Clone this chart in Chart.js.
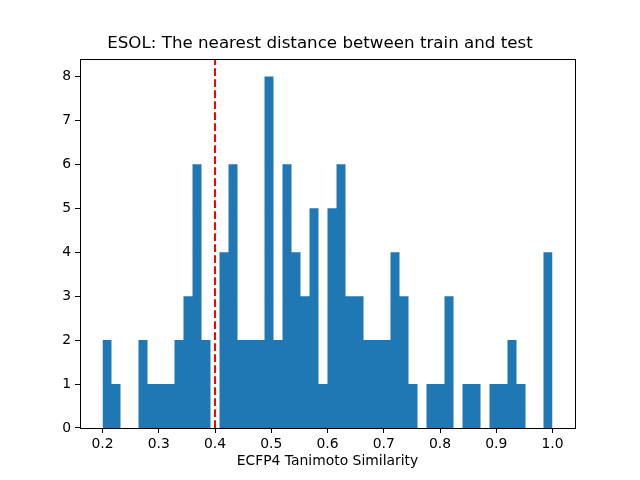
<!DOCTYPE html>
<html>
<head>
<meta charset="utf-8">
<script src="https://cdn.jsdelivr.net/npm/chart.js@4"></script>
<style>
  html, body { margin: 0; padding: 0; background: #fff; }
</style>
</head>
<body>
<canvas id="histchart" width="640" height="480"></canvas>
<script>
// histogram of nearest train/test similarity, 50 bins from 0.2 to 1.0
const binLow = 0.2;
const binHigh = 1.0;
const counts = [2, 1, 0, 0, 2, 1, 1, 1, 2, 3,
                6, 2, 0, 4, 6, 2, 2, 2, 8, 2,
                6, 4, 3, 5, 1, 5, 6, 3, 3, 2,
                2, 2, 4, 3, 1, 0, 1, 1, 3, 0,
                1, 1, 0, 1, 1, 2, 1, 0, 0, 4];
const cutoff = 0.4;
const xTicks = [0.2, 0.3, 0.4, 0.5, 0.6, 0.7, 0.8, 0.9, 1.0];
const yTicks = [0, 1, 2, 3, 4, 5, 6, 7, 8];

// step outline: one point on the left edge of every bin, closed at binHigh
const binWidth = (binHigh - binLow) / counts.length;
const histPoints = counts.map((c, i) => ({ x: binLow + binWidth * i, y: c }));
histPoints.push({ x: binHigh, y: 0 });

const font = 'DejaVu Sans';

// matplotlib-style frame round the axes
const framePlugin = {
  id: 'frame',
  afterDraw(chart) {
    const a = chart.chartArea, ctx = chart.ctx;
    ctx.save();
    ctx.strokeStyle = '#000';
    ctx.lineWidth = 1;
    ctx.strokeRect(Math.round(a.left) + 0.5, Math.round(a.top) + 0.5,
                   Math.round(a.right - a.left), Math.round(a.bottom - a.top));
    ctx.restore();
  }
};

const config = {
  type: 'line',
  data: {
    datasets: [{
      data: histPoints,
      stepped: 'before',
      backgroundColor: '#1f77b4',
      borderColor: '#1f77b4',
      borderWidth: 0,
      pointRadius: 0,
      fill: 'origin',
      order: 2
    }, {
      data: [{ x: cutoff, y: 0 }, { x: cutoff, y: 8.4 }],
      borderColor: 'red',
      borderWidth: 2,
      borderDash: [7.7, 3.3],
      pointRadius: 0,
      fill: false,
      order: 1
    }]
  },
  options: {
    responsive: false,
    animation: false,
    devicePixelRatio: 1,
    layout: { padding: 0 },
    plugins: {
      legend: { display: false },
      tooltip: { enabled: false },
      title: {
        display: true,
        text: 'ESOL: The nearest distance between train and test',
        color: '#000',
        font: { family: font, size: 16.7, weight: 'normal' },
        padding: { top: 33.4, bottom: 5.4 }
      }
    },
    scales: {
      x: {
        type: 'linear',
        min: 0.16,
        max: 1.04,
        afterBuildTicks: s => { s.ticks = xTicks.map(v => ({ value: v })); },
        afterFit: s => { s.height = 52; },
        ticks: {
          color: '#000',
          font: { family: font, size: 13.9 },
          padding: 3,
          maxRotation: 0,
          callback: v => v.toFixed(1)
        },
        grid: { display: true, drawOnChartArea: false, drawTicks: true, tickLength: 5, color: '#000' },
        border: { display: false },
        title: {
          display: true,
          text: 'ECFP4 Tanimoto Similarity',
          color: '#000',
          font: { family: font, size: 13.9 },
          padding: { top: 0, bottom: 10 }
        }
      },
      y: {
        min: 0,
        max: 8.4,
        afterBuildTicks: s => { s.ticks = yTicks.map(v => ({ value: v })); },
        afterFit: s => { s.width = 80; },
        ticks: {
          color: '#000',
          font: { family: font, size: 13.9 },
          padding: 4
        },
        grid: { display: true, drawOnChartArea: false, drawTicks: true, tickLength: 5, color: '#000' },
        border: { display: false }
      },
      // empty right-hand axis that only reserves the right margin
      yRight: {
        position: 'right',
        min: 0,
        max: 8.4,
        afterFit: s => { s.width = 65; },
        ticks: { display: false },
        grid: { display: false },
        border: { display: false }
      }
    }
  },
  plugins: [framePlugin]
};

const histchart = new Chart(document.getElementById('histchart'), config);
</script>
</body>
</html>
